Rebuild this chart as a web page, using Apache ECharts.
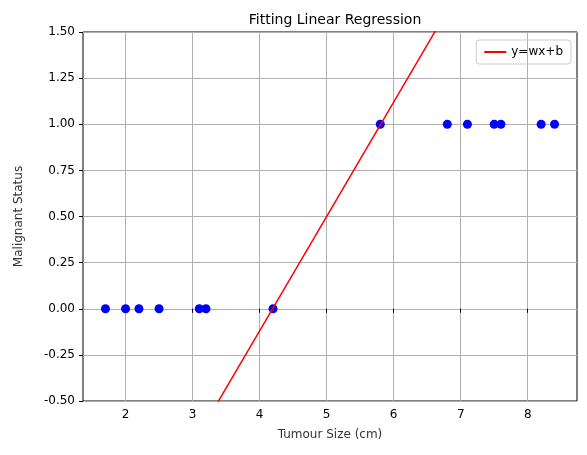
<!DOCTYPE html>
<html><head><meta charset="utf-8">
<script src="https://cdn.jsdelivr.net/npm/echarts@6/dist/echarts.min.js"></script>
<style>html,body{margin:0;background:#fff}#main{width:587px;height:455px}</style>
</head><body><div id="main"></div>
<script>
// tumour sizes and status
var benignX = [1.7, 2.0, 2.2, 2.5, 3.1, 3.2, 4.2];
var malignX = [5.8, 6.8, 7.1, 7.5, 7.6, 8.2, 8.4];
var status0 = [0, 0, 0, 0, 0, 0, 0];
var status1 = [1, 1, 1, 1, 1, 1, 1];
// fitted line ends
var lineX = [1.7, 8.4];
var lineY = [-1.546, 2.608];
var xTicks = [2, 3, 4, 5, 6, 7, 8];

var pts = [];
for (var i = 0; i < benignX.length; i++) pts.push([benignX[i], status0[i]]);
for (var i = 0; i < malignX.length; i++) pts.push([malignX[i], status1[i]]);
var ln = [];
for (var i = 0; i < lineX.length; i++) ln.push([lineX[i], lineY[i]]);

var font = 'DejaVu Sans';
var myChart = echarts.init(document.getElementById('main'));
myChart.setOption({
  animation: false,
  textStyle: {fontFamily: font},
  title: {text: 'Fitting Linear Regression', left: 330, top: 8, textAlign: 'center',
    textStyle: {fontSize: 14, fontWeight: 'normal', color: '#000', fontFamily: font}},
  grid: {left: 83, right: 10, top: 32, bottom: 54, show: true, borderColor: '#000', borderWidth: 1},
  legend: {right: 16, top: 40, orient: 'vertical', borderColor: '#ccc', borderWidth: 1, borderRadius: 3,
    padding: [6, 8], itemWidth: 22, itemHeight: 2, textStyle: {fontSize: 12, color: '#000'},
    data: [{name: 'y=wx+b', icon: 'rect'}]},
  xAxis: {type: 'value', min: 1.365, max: 8.735,
    name: 'Tumour Size (cm)', nameLocation: 'middle', nameGap: 28,
    nameTextStyle: {fontSize: 12, color: '#333'},
    axisLine: {show: false},
    axisTick: {show: true, length: 4, lineStyle: {color: '#000'}, customValues: xTicks},
    axisLabel: {color: '#000', fontSize: 12, customValues: xTicks},
    splitLine: {lineStyle: {color: '#b0b0b0'}}},
  yAxis: {type: 'value', min: -0.5, max: 1.5, interval: 0.25,
    name: 'Malignant Status', nameLocation: 'middle', nameGap: 58,
    nameTextStyle: {fontSize: 12, color: '#333'},
    axisLine: {show: false}, axisTick: {show: true, length: 4, lineStyle: {color: '#000'}},
    axisLabel: {color: '#000', fontSize: 12, formatter: function (v) { return v.toFixed(2); }},
    splitLine: {lineStyle: {color: '#b0b0b0'}}},
  series: [
    {name: 'y=wx+b', type: 'line', data: ln, showSymbol: false, clip: true,
      lineStyle: {color: '#ff0000', width: 1.5}, itemStyle: {color: '#ff0000'}},
    {name: 'pts', type: 'scatter', data: pts, symbolSize: 9, itemStyle: {color: '#0000ff', opacity: 1}}
  ]
});
</script></body></html>
